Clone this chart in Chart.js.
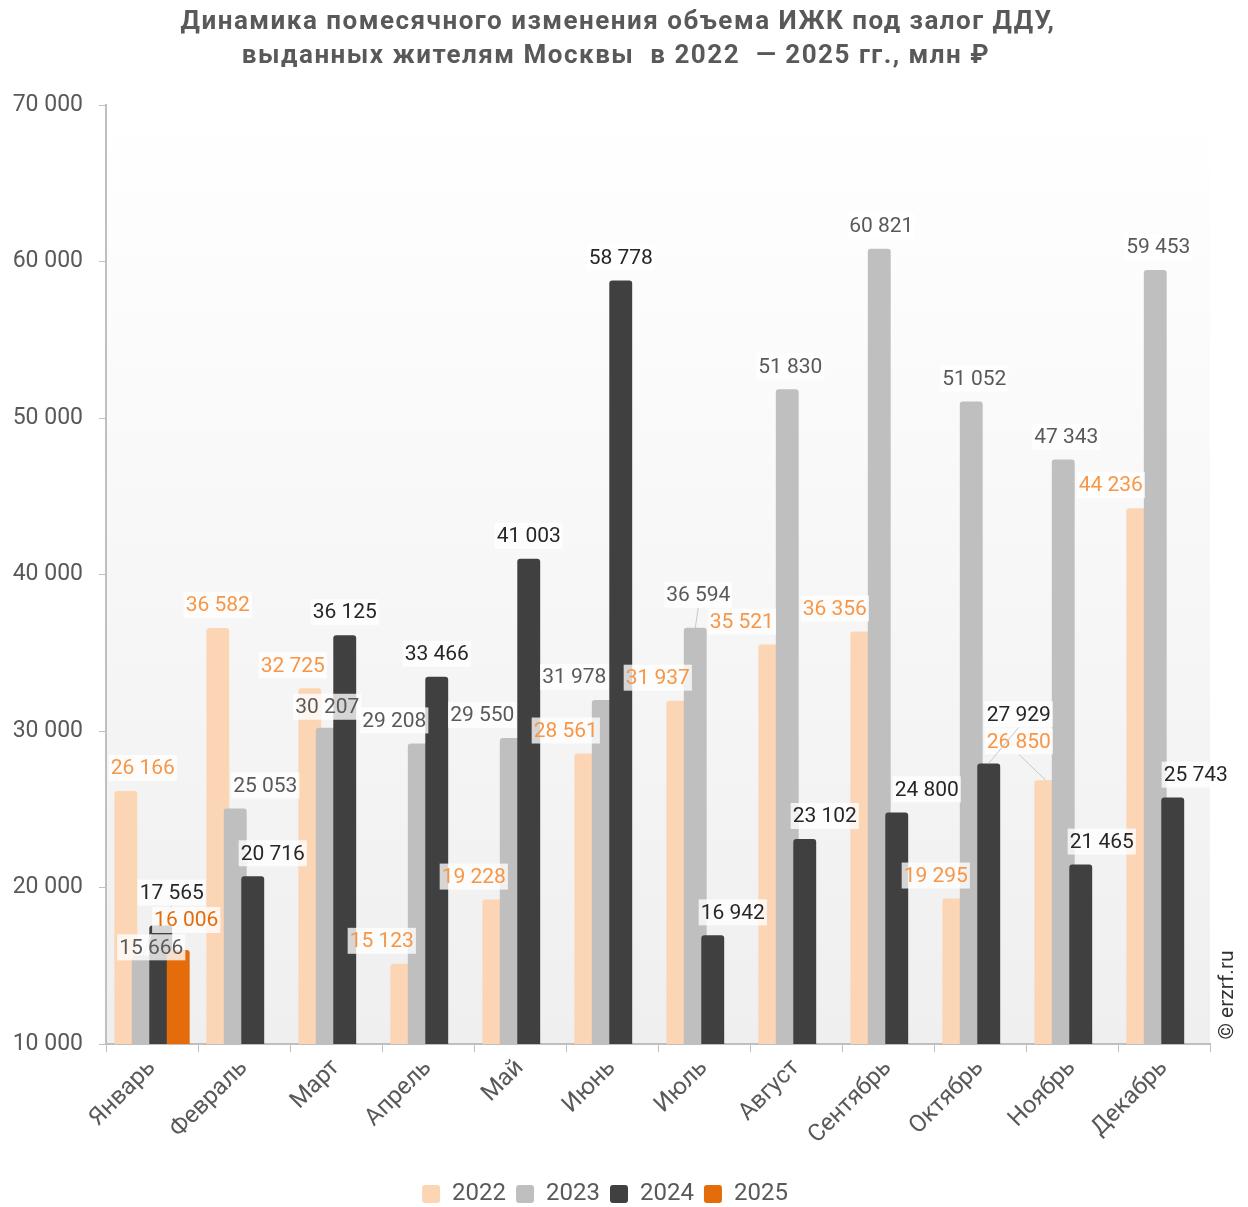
<!DOCTYPE html>
<html lang="ru">
<head>
<meta charset="utf-8">
<script src="https://cdn.jsdelivr.net/npm/chart.js@4.4.1/dist/chart.umd.min.js"></script>
<style>
  html, body { margin: 0; padding: 0; background: #fff; }
  #wrap { width: 1248px; height: 1207px; }
</style>
</head>
<body>
<div id="wrap"><canvas id="chart" width="1248" height="1207"></canvas></div>
<script>
const months = ["Январь", "Февраль", "Март", "Апрель", "Май", "Июнь",
  "Июль", "Август", "Сентябрь", "Октябрь", "Ноябрь", "Декабрь"];
const years = ["2022", "2023", "2024", "2025"];

const v2022 = [26166, 36582, 32725, 15123, 19228, 28561, 31937, 35521, 36356, 19295, 26850, 44236];
const v2023 = [15666, 25053, 30207, 29208, 29550, 31978, 36594, 51830, 60821, 51052, 47343, 59453];
const v2024 = [17565, 20716, 36125, 33466, 41003, 58778, 16942, 23102, 24800, 27929, 21465, 25743];
const v2025 = [16006, null, null, null, null, null, null, null, null, null, null, null];

const yTicks = [10000, 20000, 30000, 40000, 50000, 60000, 70000];

const titleLines = [
  "Динамика помесячного изменения объема ИЖК под залог ДДУ,",
  "выданных жителям Москвы  в 2022  — 2025 гг., млн ₽"
];

const barColors = ["#FCD5B5", "#BFBFBF", "#404040", "#E46C0A"];
const labelColors = ["#F79646", "#595959", "#262626", "#E46C0A"];

// сдвиги подписей (как вручную расставлено в исходнике), пиксели
const shiftX = [
  [17, 0, -17, -20, -20, -20, -20, -28, -27, -18, -27, -27],
  [8, 30, 0, -25, -29, -29, 3, 3, 2, 3, 3, 3],
  [11, 20, 0, 0, 0, 0, 20, 20, 30, 30, 21, 23],
  [8]
];
const shiftY = [
  [0, 0, 0, 0, 0, 0, 0, 0, 0, 0, -16, 0],
  [15, 0, 2, 0, 0, 0, -10, 0, 0, 0, 0, 0],
  [-10, 0, 0, 0, 0, 0, 0, 0, 0, -26, 0, 0],
  [-7]
];

function fmt(v, sep) {
  return String(v).replace(/\B(?=(\d{3})+(?!\d))/g, sep);
}

// фон области построения — вертикальный градиент
const bgPlugin = {
  id: "bg",
  afterLayout(chart) {
    // легенда чуть ниже, как в оригинале
    chart.legend.top += 9;
    chart.legend.bottom += 9;
  },
  beforeDraw(chart) {
    const { ctx, chartArea: a } = chart;
    ctx.save();
    ctx.fillStyle = "#fff";
    ctx.fillRect(0, 0, chart.width, chart.height);
    const g = ctx.createLinearGradient(0, a.top, 0, a.bottom);
    g.addColorStop(0, "#ffffff");
    g.addColorStop(1, "#efefef");
    ctx.fillStyle = g;
    ctx.fillRect(a.left, a.top, a.right - a.left, a.bottom - a.top);
    ctx.restore();
  }
};

// рисуем серии по порядку, чтобы поздние годы перекрывали ранние
const orderPlugin = {
  id: "drawOrder",
  beforeDatasetsDraw(chart) {
    const { ctx, chartArea: a } = chart;
    ctx.save();
    ctx.beginPath();
    ctx.rect(a.left, a.top, a.right - a.left, a.bottom - a.top);
    ctx.clip();
    chart.getSortedVisibleDatasetMetas().forEach(m => m.controller.draw());
    ctx.restore();
    return false;
  }
};

const labelPlugin = {
  id: "valueLabels",
  afterDraw(chart) {
    const ctx = chart.ctx;
    ctx.save();
    ctx.font = "21px Roboto";
    ctx.textAlign = "center";
    ctx.textBaseline = "middle";
    chart.data.datasets.forEach((ds, si) => {
      const meta = chart.getDatasetMeta(si);
      ds.data.forEach((v, i) => {
        if (v == null) return;
        const el = meta.data[i];
        const dx = (shiftX[si] && shiftX[si][i]) || 0;
        const dy = (shiftY[si] && shiftY[si][i]) || 0;
        const cx = el.x + dx;
        const cy = el.y - 23 + dy;
        const txt = fmt(v, " ");
        const w = ctx.measureText(txt).width + 4;
        if (Math.abs(dy) >= 10) {
          ctx.strokeStyle = "#c8c8c8";
          ctx.lineWidth = 1;
          ctx.beginPath();
          ctx.moveTo(cx, cy + (dy > 0 ? -13 : 13));
          ctx.lineTo(el.x, el.y);
          ctx.stroke();
        }
        ctx.fillStyle = "rgba(255,255,255,0.78)";
        ctx.fillRect(cx - w / 2, cy - 13, w, 26);
        ctx.fillStyle = labelColors[si];
        ctx.fillText(txt, cx, cy + 1);
      });
    });

    // заголовок
    ctx.font = "bold 26px Roboto";
    ctx.letterSpacing = "1.5px";
    ctx.fillStyle = "#595959";
    ctx.fillText(titleLines[0], 618, 22);
    ctx.fillText(titleLines[1], 616, 56);
    ctx.letterSpacing = "0px";

    // копирайт
    ctx.translate(1228, 995);
    ctx.rotate(-Math.PI / 2);
    ctx.font = "21px Roboto";
    ctx.fillStyle = "#333";
    ctx.fillText("© erzrf.ru", 0, 0);
    ctx.restore();
  }
};

const seriesValues = [v2022, v2023, v2024, v2025];

const ctx = document.getElementById("chart").getContext("2d");
const chart = new Chart(ctx, {
  type: "bar",
  data: {
    labels: months,
    datasets: years.map((y, i) => ({
      label: y,
      data: seriesValues[i],
      backgroundColor: barColors[i],
      borderRadius: 3,
      borderSkipped: "bottom",
      categoryPercentage: 0.76,
      barPercentage: 1.31
    }))
  },
  options: {
    responsive: false,
    animation: false,
    layout: { padding: { left: 0, right: 38, top: 105, bottom: 0 } },
    plugins: {
      title: { display: false },
      legend: {
        position: "bottom",
        labels: {
          color: "#595959",
          font: { family: "Roboto", size: 24 },
          boxWidth: 18,
          boxHeight: 18,
          useBorderRadius: true,
          borderRadius: 3,
          padding: 10
        }
      },
      tooltip: { enabled: false }
    },
    scales: {
      x: {
        afterFit(scale) { scale.height = 119; },
        grid: { drawOnChartArea: false, color: "#bfbfbf", tickLength: 8 },
        border: { color: "#bfbfbf", width: 2 },
        ticks: {
          color: "#595959",
          font: { family: "Roboto", size: 24 },
          minRotation: 45,
          maxRotation: 45,
          padding: 2
        }
      },
      y: {
        min: 10000,
        max: 70000,
        afterFit(scale) { scale.width = 106; },
        afterBuildTicks(scale) { scale.ticks = yTicks.map(v => ({ value: v })); },
        grid: { drawOnChartArea: false, color: "#bfbfbf", tickLength: 7 },
        border: { color: "#bfbfbf", width: 2 },
        ticks: {
          color: "#595959",
          font: { family: "Roboto", size: 23 },
          padding: 16,
          callback: v => fmt(v, " ")
        }
      }
    }
  },
  plugins: [bgPlugin, orderPlugin, labelPlugin]
});
</script>
</body>
</html>
